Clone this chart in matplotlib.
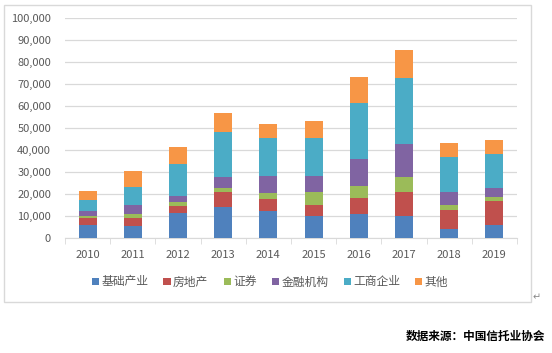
import matplotlib
matplotlib.use("Agg")
import matplotlib.pyplot as plt
from matplotlib.ticker import FuncFormatter, FixedLocator
import numpy as np

years = ["2010", "2011", "2012", "2013", "2014", "2015", "2016", "2017", "2018", "2019"]
series_names = ["基础产业", "房地产", "证券", "金融机构", "工商企业", "其他"]
infrastructure = [5900, 5500, 11400, 13900, 12400, 10000, 10900, 10000, 4200, 5900]
real_estate = [3200, 3500, 3300, 7000, 5300, 5000, 7300, 10900, 8500, 10900]
securities = [900, 2100, 1800, 1800, 2900, 5900, 5400, 6800, 2500, 2000]
financial = [2300, 3900, 2400, 5200, 7600, 7300, 12300, 15000, 5700, 3900]
industrial = [5000, 8200, 14700, 20400, 17400, 17300, 25500, 30000, 15900, 15500]
other = [4100, 7300, 7900, 8700, 6200, 7700, 11800, 12800, 6400, 6300]
source_text = "数据来源：中国信托业协会"

colors = ["#4F81BD", "#C0504D", "#9BBB59", "#8064A2", "#4BACC6", "#F79646"]
cjk = ["Noto Sans CJK SC", "DejaVu Sans"]
plt.rcParams["font.family"] = cjk

W, H = 552, 353
fig = plt.figure(figsize=(W / 100, H / 100), dpi=100)
fig.patch.set_facecolor("white")

# outer chart frame
frame = plt.Rectangle((4 / W, 1 - 302 / H), (531 - 4) / W, (302 - 5) / H,
                      transform=fig.transFigure, fill=False, edgecolor="#d9d9d9", lw=1)
fig.add_artist(frame)

ax = fig.add_axes([65 / W, 1 - 238 / H, (517 - 65) / W, (238 - 18) / H])
x = np.arange(len(years))
data = [infrastructure, real_estate, securities, financial, industrial, other]
bottom = np.zeros(len(years))
handles = []
for name, vals, c in zip(series_names, data, colors):
    b = ax.bar(x, vals, width=0.4, bottom=bottom, color=c, label=name, zorder=3)
    handles.append(b)
    bottom += np.array(vals)

ax.set_xlim(-0.5, len(years) - 0.5)
ax.set_ylim(0, 100000)
ax.set_yticks(np.arange(0, 100001, 10000))
ax.yaxis.set_major_formatter(FuncFormatter(lambda v, p: f"{int(v):,}"))
ax.grid(axis="y", color="#d9d9d9", lw=0.9, zorder=0)
for s in ["top", "right", "left"]:
    ax.spines[s].set_visible(False)
ax.spines["bottom"].set_color("#d9d9d9")
ax.tick_params(axis="y", length=0, labelsize=8, labelcolor="#595959", pad=10)
ax.set_xticks(x)
ax.set_xticklabels(years)
ax.tick_params(axis="x", which="major", length=0, labelsize=8, labelcolor="#595959", pad=9)
ax.xaxis.set_minor_locator(FixedLocator(np.arange(-0.5, len(years), 1.0)))
ax.tick_params(axis="x", which="minor", length=4, color="#d9d9d9")

fig.legend(handles=handles, labels=series_names, loc="center", bbox_to_anchor=(270 / W, 1 - 282 / H),
           ncol=6, frameon=False, fontsize=8.5, handlelength=0.6, handleheight=0.6,
           handletextpad=0.2, columnspacing=1.3, labelcolor="#595959")

fig.text(533 / W, 1 - 297 / H, "↵", fontsize=7, color="#888888", ha="left", va="center",
         family=["DejaVu Sans"])
fig.text(545 / W, 1 - 336 / H, source_text, fontsize=8.4, fontweight="bold", color="black",
         ha="right", va="center")

fig.savefig("out.png", dpi=100, facecolor="white")
